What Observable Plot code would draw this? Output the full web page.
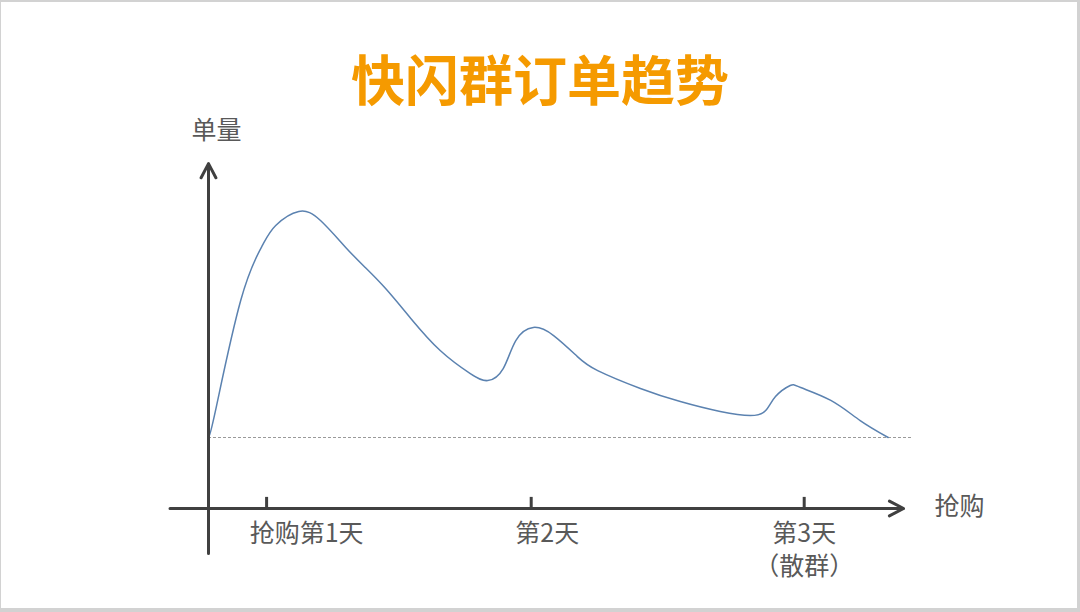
<!DOCTYPE html>
<html>
<head>
<meta charset="utf-8">
<script src="https://cdn.jsdelivr.net/npm/d3@7"></script>
<script src="https://cdn.jsdelivr.net/npm/@observablehq/plot@0.6"></script>
<style>
  html, body { margin: 0; padding: 0; background: #fff; }
  #wrap { position: relative; width: 1080px; height: 612px; overflow: hidden; background: #fff;
          font-family: "Noto Sans CJK SC", "Noto Sans", sans-serif; }
  #title { height: 64px; padding-top: 51px; line-height: 54px; font-size: 54px; font-weight: 700;
           color: #F59A00; text-align: center; }
  #frame { position: absolute; left: 0; top: 0; right: 0; bottom: 0; box-sizing: border-box;
           border-style: solid; border-color: #d2d2d2; border-width: 2px 3px 4px 1px; pointer-events: none; }
  svg { display: block; }
</style>
</head>
<body>
<div id="wrap">
  <div id="title">快闪群订单趋势</div>
  <div id="chart"></div>
  <div id="frame"></div>
</div>
<script>
// Time along the purchase axis (arbitrary units) and order volume (relative units)
const timeX = [0, 1.0, 4.6, 7.7, 9.6, 12.9, 16.0, 19.6, 22.4, 25.3, 28.9, 33.1, 37.4, 39.9, 42.1, 43.9, 46.4, 49.3, 52.7, 55.6, 61.7, 67.4, 73.1, 77.4, 79.6, 81.0, 83.1, 84.6, 88.9, 93.1, 97.1];
const orders = [0, 11.9, 60.6, 85.0, 93.8, 100, 96.0, 84.1, 75.2, 65.9, 52.7, 38.5, 28.3, 25.2, 30.5, 42.9, 48.7, 45.1, 35.8, 29.6, 21.7, 15.9, 11.5, 9.7, 11.9, 18.1, 23.0, 22.1, 16.4, 7.5, 0];

// Day ticks on the time axis
const tickPos = [8.3, 46.1, 85.1];
const tickLabels = ["抢购第1天", "第2天", "第3天\n（散群）"];

// Axis extents
const axisY = -31.4;       // level of the horizontal axis
const xAxisStart = -5.5, xAxisEnd = 99.3;
const yAxisBottom = -51.3, yAxisTop = 121.2;
const baselineEnd = 100.6;

const yLabel = "单量";
const xLabel = "抢购";

const curve = timeX.map((t, i) => ({t, v: orders[i]}));
const ticks = tickPos.map((p, i) => ({p, label: tickLabels[i], dx: [40, 16, 0][i]}));

const ink = "#404040";
const textInk = "#595959";

const plot = Plot.plot({
  width: 1080,
  height: 497,
  margin: 0,
  x: {domain: [0, 100], range: [208, 908], axis: null},
  y: {domain: [0, 100], range: [322, 96], axis: null},
  style: {fontFamily: '"Noto Sans CJK SC", "Noto Sans", sans-serif', background: "transparent", overflow: "visible"},
  marks: [
    Plot.ruleY([0], {x1: 0, x2: baselineEnd, stroke: "#9a9a9a", strokeWidth: 1, strokeDasharray: "3,2"}),
    Plot.line(curve, {x: "t", y: "v", curve: "natural", stroke: "#5b82b0", strokeWidth: 1.5}),
    Plot.arrow([{}], {x1: 0, x2: 0, y1: yAxisBottom, y2: yAxisTop, stroke: ink, strokeWidth: 3, headLength: 8, headAngle: 55}),
    Plot.arrow([{}], {x1: xAxisStart, x2: xAxisEnd, y1: axisY, y2: axisY, stroke: ink, strokeWidth: 3, headLength: 8, headAngle: 55}),
    Plot.ruleX(ticks, {x: "p", y1: axisY, y2: axisY + 4.9, stroke: ink, strokeWidth: 3}),
    ...ticks.map(d => Plot.text([d], {x: "p", y: axisY, text: "label", dx: d.dx, dy: 10, lineAnchor: "top", lineHeight: 1.32, fontSize: 25, fill: textInk})),
    Plot.text([yLabel], {x: 0, y: yAxisTop, text: d => d, dx: 8, dy: -33, fontSize: 25, fill: textInk}),
    Plot.text([xLabel], {x: xAxisEnd, y: axisY, text: d => d, dx: 56, dy: -1, fontSize: 25, fill: textInk})
  ]
});
document.getElementById("chart").appendChild(plot);
</script>
</body>
</html>
